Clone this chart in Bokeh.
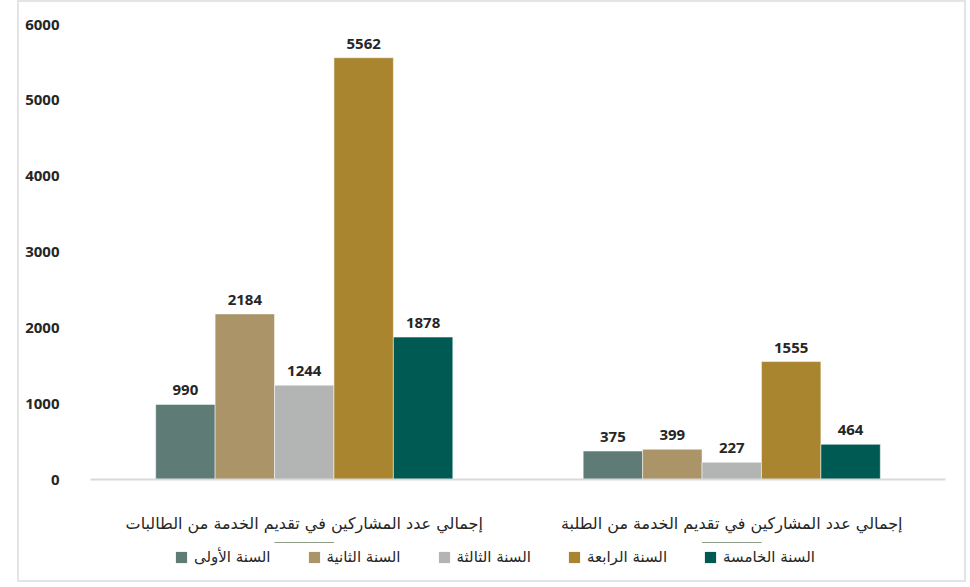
from bokeh.plotting import figure
from bokeh.layouts import column
from bokeh.models import ColumnDataSource, FactorRange, Range1d, FixedTicker, Legend, LegendItem, LabelSet
from bokeh.transform import dodge
from bokeh.embed import file_html
from bokeh.resources import INLINE
from bokeh.core.properties import value

categories = ["إجمالي عدد المشاركين في تقديم الخدمة من الطالبات",
              "إجمالي عدد المشاركين في تقديم الخدمة من الطلبة"]
series_names = ["السنة الأولى", "السنة الثانية", "السنة الثالثة", "السنة الرابعة", "السنة الخامسة"]
year1 = [990, 375]
year2 = [2184, 399]
year3 = [1244, 227]
year4 = [5562, 1555]
year5 = [1878, 464]
series_values = [year1, year2, year3, year4, year5]
colors = ["#5e7b76", "#ab9568", "#b2b5b3", "#a98530", "#005a54"]
y_ticks = [0, 1000, 2000, 3000, 4000, 5000, 6000]

W = 945
H_MAIN, H_LEG = 540, 38
p = figure(width=W, height=H_MAIN, x_range=FactorRange(*categories), y_range=Range1d(0, 6000),
           output_backend="svg", toolbar_location=None,
           min_border_left=71, min_border_right=19, min_border_top=22, min_border_bottom=63)
p.outline_line_color = None
p.xgrid.grid_line_color = None
p.ygrid.grid_line_color = None

bw = 0.139
offsets = [-2 * bw, -bw, 0, bw, 2 * bw]
sources = []
for vals, col, off in zip(series_values, colors, offsets):
    src = ColumnDataSource(dict(cat=categories, val=vals, txt=[str(v) for v in vals]))
    sources.append(src)
    p.vbar(x=dodge("cat", off, range=p.x_range), top="val", width=bw, source=src,
           fill_color=col, line_color="white", line_width=0.5)
    lbl = LabelSet(x=dodge("cat", off, range=p.x_range), y="val", text="txt", source=src,
                   text_align="center", text_baseline="bottom", y_offset=9,
                   text_font=value("Open Sans"), text_font_style="bold",
                   text_font_size="15px", text_color="#262626")
    p.add_layout(lbl)

# y axis
p.yaxis.ticker = FixedTicker(ticks=y_ticks)
p.yaxis.axis_line_color = None
p.yaxis.major_tick_line_color = None
p.yaxis.minor_tick_line_color = None
p.yaxis.major_label_standoff = 25
p.yaxis.major_label_text_font = "Open Sans"
p.yaxis.major_label_text_font_style = "bold"
p.yaxis.major_label_text_font_size = "15px"
p.yaxis.major_label_text_color = "#262626"

# x axis
p.xaxis.axis_line_color = "#d9d9d9"
p.xaxis.axis_line_width = 2
p.xaxis.major_tick_line_color = None
p.xaxis.minor_tick_line_color = None
p.xaxis.major_label_standoff = 28
p.xaxis.major_label_text_font = "DejaVu Sans"
p.xaxis.major_label_text_font_style = "normal"
p.xaxis.major_label_text_font_size = "16px"
p.xaxis.major_label_text_color = "#262626"

# legend strip (same series as zero-height bars far off-frame so only the legend shows)
lf = figure(width=W, height=H_LEG, x_range=FactorRange(*categories), y_range=Range1d(-2, -1),
            output_backend="svg", toolbar_location=None,
            x_axis_type=None, y_axis_type=None, min_border=0)
lf.outline_line_color = None
lf.xgrid.grid_line_color = None
lf.ygrid.grid_line_color = None
items = []
for name, col, src in zip(series_names, colors, sources):
    r = lf.vbar(x="cat", top="val", bottom="val", width=bw, source=src, fill_color=col,
                line_color=None, line_alpha=0)
    items.append(LegendItem(label=name, renderers=[r]))
legend = Legend(items=items, orientation="horizontal", location=(84, 14),
                glyph_width=14, glyph_height=14, label_standoff=6, spacing=36,
                label_text_font="DejaVu Sans", label_text_font_size="15px",
                label_text_align="right",
                label_text_color="#262626", border_line_color=None,
                background_fill_alpha=0, padding=0, margin=0)
lf.add_layout(legend, "center")

layout = column(p, lf, spacing=0)
layout.margin = (2, 0, 0, 19)
layout.styles = {"box-shadow": "0 0 0 2px #e4e4e4"}

open("out.html", "w").write(file_html(layout, INLINE))
